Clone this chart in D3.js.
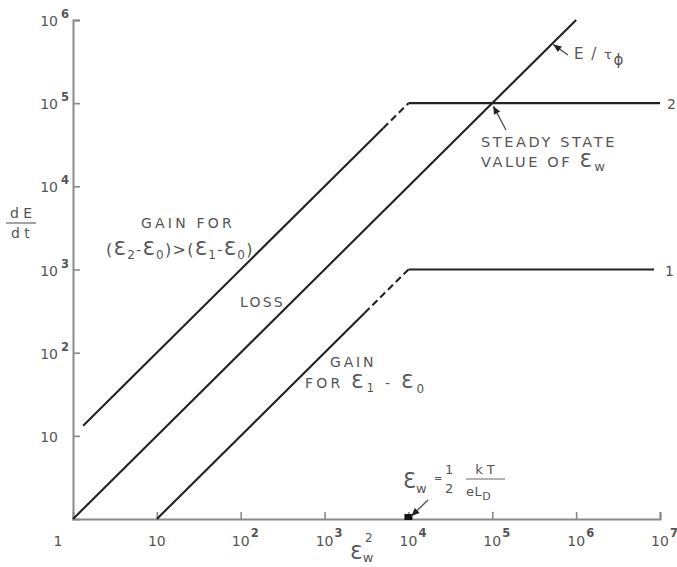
<!DOCTYPE html>
<html>
<head>
<meta charset="utf-8">
<script src="https://cdn.jsdelivr.net/npm/d3@7"></script>
<style>
  html, body { margin: 0; padding: 0; background: #fff; }
  svg { display: block; }
  text { font-family: "DejaVu Sans", sans-serif; fill: #555; }
</style>
</head>
<body>
<svg id="chart" width="677" height="567"></svg>
<script>
// Axis decades (log scales)
const xTicks = [1, 10, 1e2, 1e3, 1e4, 1e5, 1e6, 1e7];
const yTicks = [1, 10, 1e2, 1e3, 1e4, 1e5, 1e6];
const xTickExp = ["1", "1", "2", "3", "4", "5", "6", "7"];
const yTickExp = ["", "1", "2", "3", "4", "5", "6"];

// Energy loss rate E/tau_phi  (dE/dt = E)
const lossLine = [[1, 1], [1e6, 1e6]];

// Gain curve 2: (E2-E0) > (E1-E0)
const gain2Solid = [[1.32, 13.2], [5e3, 5e4]];
const gain2Dashed = [[5e3, 5e4], [1e4, 1e5]];
const gain2Flat = [[1e4, 1e5], [1e7, 1e5]];

// Gain curve 1: E1-E0
const gain1Solid = [[10, 1], [3e3, 300]];
const gain1Dashed = [[3e3, 300], [1e4, 1e3]];
const gain1Flat = [[1e4, 1e3], [8.5e6, 1e3]];

// Special points
const steadyState = [1e5, 1e5];
const lossLabelPoint = [5.2e5, 5.2e5];
const thermalPoint = [1e4, 1];

const svg = d3.select("#chart");
const x = d3.scaleLog().domain([1, 1e7]).range([73, 660]);
const y = d3.scaleLog().domain([1, 1e6]).range([519, 20]);

const axisColor = "#8a8a8a";
const inkColor = "#222";

// Axes: ticks point inward
const xAxis = d3.axisBottom(x).tickValues(xTicks).tickSize(-7).tickFormat("");
const yAxis = d3.axisLeft(y).tickValues(yTicks).tickSize(-7).tickFormat("");

const gx = svg.append("g").attr("transform", `translate(0,${y(1)})`).call(xAxis);
const gy = svg.append("g").attr("transform", `translate(${x(1)},0)`).call(yAxis);
[gx, gy].forEach(g => {
  g.select(".domain").attr("stroke", axisColor).attr("stroke-width", 2);
  g.selectAll(".tick line").attr("stroke", axisColor).attr("stroke-width", 1.6);
});
gx.selectAll(".tick").filter(d => d === 1).select("line").remove();
gy.selectAll(".tick").filter(d => d === 1).select("line").remove();

// Tick labels
xTicks.forEach((v, i) => {
  const px = x(v);
  if (v === 1) {
    svg.append("text").attr("x", px - 15).attr("y", 546)
      .attr("text-anchor", "middle").style("font-size", "14px").text("1");
    return;
  }
  svg.append("text").attr("x", px).attr("y", 546)
    .attr("text-anchor", "middle").style("font-size", "14px").text("10");
  if (v > 10) {
    svg.append("text").attr("x", px + 10).attr("y", 537)
      .style("font-size", "11.5px").style("font-weight", "bold").text(xTickExp[i]);
  }
});
yTicks.forEach((v, i) => {
  if (v === 1) return;
  const py = y(v);
  svg.append("text").attr("x", 58).attr("y", py + 6)
    .attr("text-anchor", "end").style("font-size", "14px").text("10");
  if (v > 10) {
    svg.append("text").attr("x", 61).attr("y", py - 2)
      .style("font-size", "11.5px").style("font-weight", "bold").text(yTickExp[i]);
  }
});

// Curves
const line = d3.line().x(d => x(d[0])).y(d => y(d[1]));
function drawPath(data, dashed) {
  svg.append("path").datum(data).attr("d", line)
    .attr("fill", "none").attr("stroke", inkColor).attr("stroke-width", 2.1)
    .attr("stroke-linecap", "butt")
    .attr("stroke-dasharray", dashed ? "7,4" : null);
}
drawPath(lossLine, false);
drawPath(gain2Solid, false);
drawPath(gain2Dashed, true);
drawPath(gain2Flat, false);
drawPath(gain1Solid, false);
drawPath(gain1Dashed, true);
drawPath(gain1Flat, false);

// Curve numbers
svg.append("text").attr("x", x(gain2Flat[1][0]) + 7).attr("y", y(1e5) + 6)
  .style("font-size", "14px").text("2");
svg.append("text").attr("x", x(gain1Flat[1][0]) + 11).attr("y", y(1e3) + 6)
  .style("font-size", "14px").text("1");

// Rich text helper: segments of {t, size, dy, dx}
function rich(px, py, segs, anchor, ls) {
  const t = svg.append("text").attr("x", px).attr("y", py)
    .attr("text-anchor", anchor || "start").style("letter-spacing", (ls == null ? 1.5 : ls) + "px");
  segs.forEach(s => {
    const ts = t.append("tspan").text(s.t).style("font-size", (s.size || 14) + "px");
    if (s.dy) ts.attr("dy", s.dy);
    if (s.dx) ts.attr("dx", s.dx);
  });
  return t;
}

// Y axis title dE/dt
rich(10, 218, [{t: "d E", size: 14}], "start", 0);
svg.append("line").attr("x1", 6).attr("x2", 36).attr("y1", 223).attr("y2", 223)
  .attr("stroke", "#666").attr("stroke-width", 1.2);
rich(11, 238, [{t: "d t", size: 14}], "start", 0);

// X axis title
rich(350, 559, [{t: "Ɛ", size: 20}, {t: "w", size: 13, dy: 3}, {t: "2", size: 12, dy: -20, dx: -9}], "start", 0.5);

// Region labels
rich(188, 228, [{t: "GAIN  FOR", size: 14}], "middle", 3.2);
rich(106, 255, [
  {t: "(", size: 16}, {t: "Ɛ", size: 20}, {t: "2", size: 12, dy: 4},
  {t: "-", size: 14, dy: -4}, {t: "Ɛ", size: 20}, {t: "0", size: 12, dy: 4},
  {t: ")>(", size: 16, dy: -4}, {t: "Ɛ", size: 20}, {t: "1", size: 12, dy: 4},
  {t: "-", size: 14, dy: -4}, {t: "Ɛ", size: 20}, {t: "0", size: 12, dy: 4},
  {t: ")", size: 16, dy: -4}
], "start", 1.3);
rich(240, 307, [{t: "LOSS", size: 14}], "start", 2.2);
rich(330, 367, [{t: "GAIN", size: 14}], "start", 2.8);
rich(305, 388, [
  {t: "FOR  ", size: 14}, {t: "Ɛ", size: 20}, {t: "1", size: 12, dy: 4},
  {t: " - ", size: 14, dy: -4}, {t: "Ɛ", size: 20}, {t: "0", size: 12, dy: 5}
], "start", 3.2);

// Steady state annotation
rich(481, 147, [{t: "STEADY  STATE", size: 14.5}], "start", 2.6);
rich(481, 167, [{t: "VALUE  OF  ", size: 14.5}, {t: "Ɛ", size: 20}, {t: "w", size: 13, dy: 4}], "start", 2.6);

function arrow(x1, y1, x2, y2) {
  svg.append("line").attr("x1", x1).attr("y1", y1).attr("x2", x2).attr("y2", y2)
    .attr("stroke", "#555").attr("stroke-width", 1.4);
  const a = Math.atan2(y2 - y1, x2 - x1), L = 8, W = 3.5;
  const bx = x2 - L * Math.cos(a), by = y2 - L * Math.sin(a);
  svg.append("path")
    .attr("d", `M${x2},${y2}L${bx - W * Math.sin(a)},${by + W * Math.cos(a)}L${bx + W * Math.sin(a)},${by - W * Math.cos(a)}Z`)
    .attr("fill", "#222");
}
arrow(506, 130, x(steadyState[0]) + 1, y(steadyState[1]) + 3);

// E / tau_phi label
rich(574, 59, [{t: "E / ", size: 15}, {t: "τ", size: 13}, {t: "ϕ", size: 15, dy: 6}], "start", 1.5);
arrow(568, 55, x(lossLabelPoint[0]) + 1, y(lossLabelPoint[1]) + 1);

// Thermal point marker
svg.append("rect").attr("x", x(thermalPoint[0]) - 4).attr("y", y(thermalPoint[1]) - 5)
  .attr("width", 8).attr("height", 6).attr("fill", "#111");
arrow(428, 500, x(thermalPoint[0]) + 3, y(thermalPoint[1]) - 3);

// E_w = 1/2 kT/(e L_D)
rich(403, 488, [{t: "Ɛ", size: 21}, {t: "w", size: 13, dy: 5}], "start", 0);
rich(434, 482, [{t: "=", size: 10}]);
rich(450, 474, [{t: "1", size: 13}], "middle");
rich(450, 493, [{t: "2", size: 13}], "middle");
rich(485, 474, [{t: "k T", size: 13}], "middle", 0);
svg.append("line").attr("x1", 466).attr("x2", 505).attr("y1", 479).attr("y2", 479)
  .attr("stroke", "#666").attr("stroke-width", 1.2);
rich(466, 496, [{t: "eL", size: 13}, {t: "D", size: 11, dy: 4}], "start", 0.5);
</script>
</body>
</html>
